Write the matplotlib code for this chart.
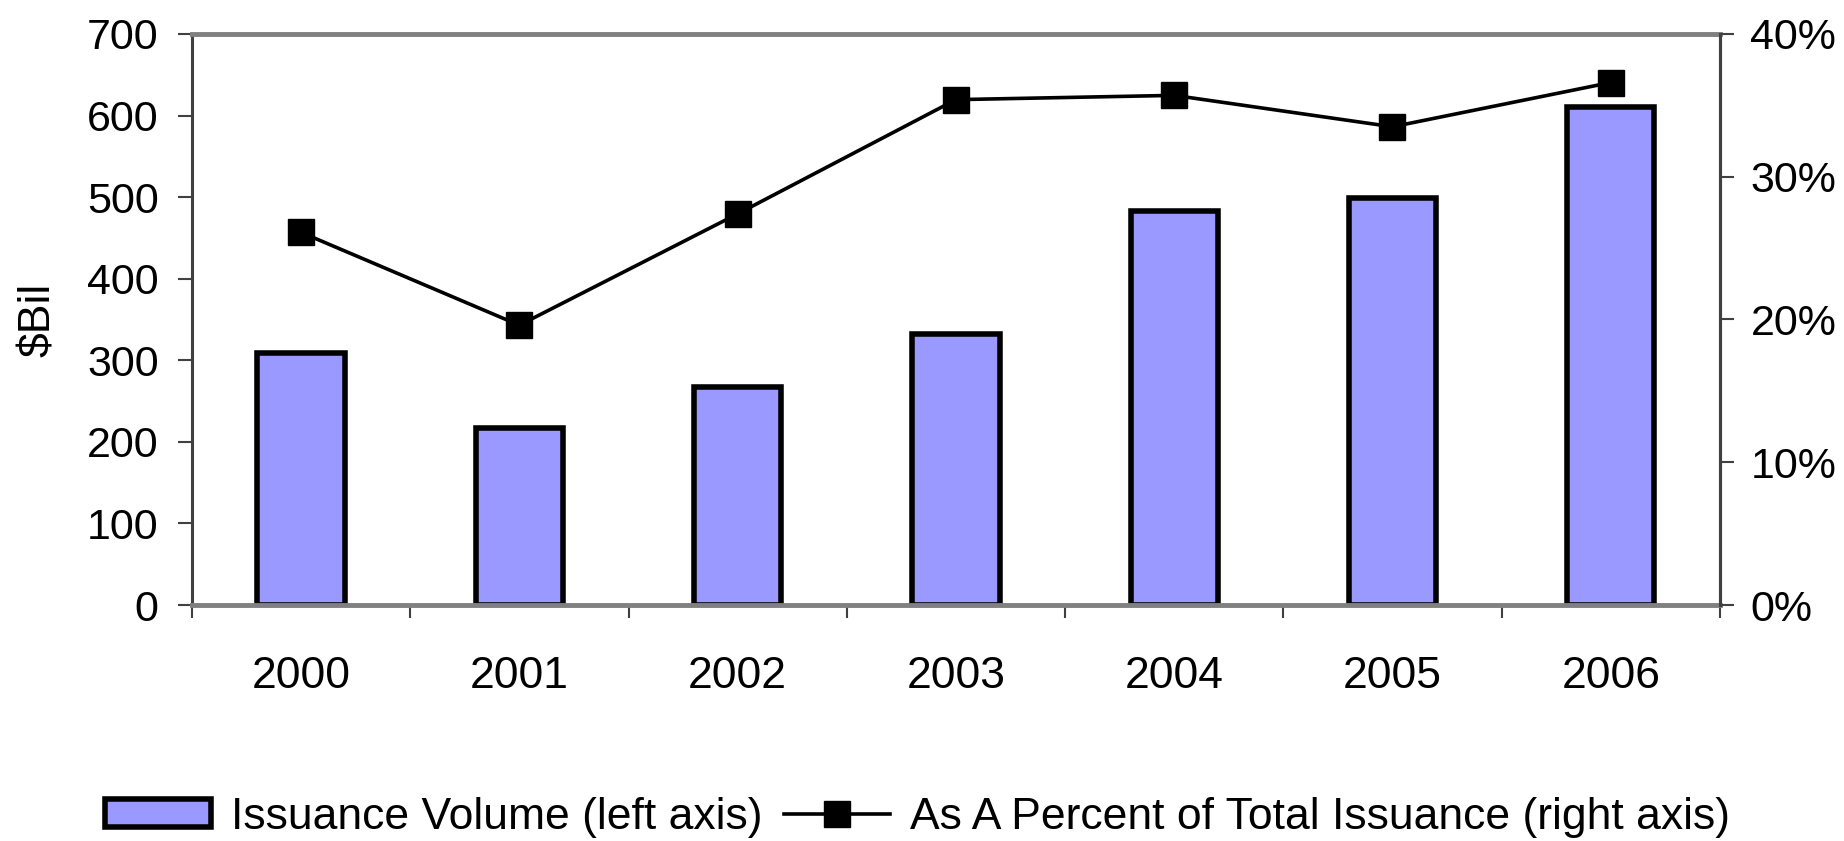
#!/usr/bin/env python3
"""Issuance volume (bars, left axis) vs share of total issuance (line, right axis)."""

import matplotlib

matplotlib.use("Agg")
import matplotlib.pyplot as plt
from matplotlib.lines import Line2D
from matplotlib.patches import Patch
from matplotlib.ticker import FuncFormatter, MultipleLocator

years = ["2000", "2001", "2002", "2003", "2004", "2005", "2006"]
volume_bil = [309, 217, 267, 332, 483, 499, 610]
pct_of_total = [26.1, 19.6, 27.4, 35.4, 35.7, 33.5, 36.6]

BAR_COLOR = "#9999FF"
FONT = "Liberation Sans"
FS = 31

plt.rcParams["font.family"] = [FONT, "DejaVu Sans"]

fig = plt.figure(figsize=(18.44, 8.41), dpi=100)
ax = fig.add_axes([0.1041, 0.2806, 0.8286, 0.679])

x = list(range(len(years)))
ax.bar(x, volume_bil, width=0.40, color=BAR_COLOR, edgecolor="black", linewidth=4, zorder=2)

ax.set_xlim(-0.5, len(years) - 0.5)
ax.set_ylim(0, 700)
ax.yaxis.set_major_locator(MultipleLocator(100))
ax.set_xticks(x)
ax.set_xticklabels(years)
ax.set_xticks([i - 0.5 for i in range(len(years) + 1)], minor=True)
ax.tick_params(axis="x", which="major", length=0, pad=37, labelsize=32)
ax.tick_params(axis="x", which="minor", length=9, width=1.5, direction="out", color="#404040")
ax.tick_params(axis="y", length=10, width=1.5, direction="out", color="#404040", labelsize=FS, pad=14)
ax.set_ylabel("$Bil", fontsize=32, labelpad=20)

for side in ("left", "right"):
    ax.spines[side].set_color("#404040")
    ax.spines[side].set_linewidth(2.2)
ax.spines["top"].set_color("#808080")
ax.spines["top"].set_linewidth(3.5)
ax.spines["bottom"].set_color("#808080")
ax.spines["bottom"].set_linewidth(3.5)

ax2 = ax.twinx()
ax2.plot(x, pct_of_total, color="black", linewidth=2.6, marker="s", markersize=19, zorder=3)
ax2.set_ylim(0, 40)
ax2.yaxis.set_major_locator(MultipleLocator(10))
ax2.yaxis.set_major_formatter(FuncFormatter(lambda v, _: f"{v:.0f}%"))
ax2.tick_params(axis="y", length=10, width=1.5, direction="out", color="#404040", labelsize=FS, pad=12)
for side in ("top", "bottom", "left"):
    ax2.spines[side].set_visible(False)
ax2.spines["right"].set_color("#404040")
ax2.spines["right"].set_linewidth(2.2)

handles = [
    Patch(facecolor=BAR_COLOR, edgecolor="black", linewidth=4),
    Line2D([0], [0], color="black", linewidth=2.6, marker="s", markersize=19),
]
labels = ["Issuance Volume (left axis)", "As A Percent of Total Issuance (right axis)"]
fig.legend(
    handles,
    labels,
    loc="center",
    bbox_to_anchor=(0.4976, 0.0285),
    ncol=2,
    frameon=False,
    fontsize=32,
    handlelength=2.4,
    handleheight=0.6,
    handletextpad=0.45,
    columnspacing=0.47,
    borderaxespad=0,
    borderpad=0,
)

fig.savefig("out.png", dpi=100)
